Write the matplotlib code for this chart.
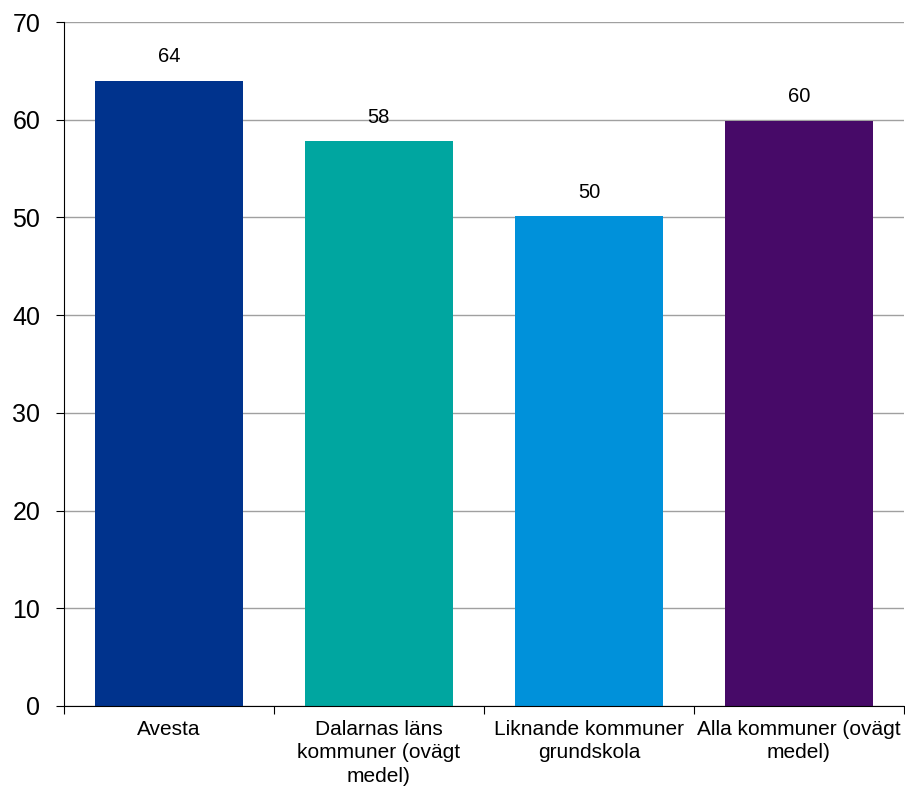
import matplotlib.pyplot as plt

plt.rcParams['font.family'] = ['Liberation Sans', 'DejaVu Sans']

categories = ["Avesta", "Dalarnas läns\nkommuner (ovägt\nmedel)",
              "Liknande kommuner\ngrundskola", "Alla kommuner (ovägt\nmedel)"]
values = [64.0, 57.8, 50.1, 59.9]
colors = ["#00338D", "#00A6A0", "#0091DA", "#470A68"]
yticks = [0, 10, 20, 30, 40, 50, 60, 70]

fig = plt.figure(figsize=(9.05, 7.89), dpi=100)
ax = fig.add_axes([0.0707, 0.1052, 0.928, 0.8669])

x = range(len(categories))
ax.bar(x, values, width=0.705, color=colors, zorder=2)
for xi, v in zip(x, values):
    ax.text(xi, v + 2.45, f"{v:.0f}", ha="center", va="center", fontsize=14.5)

ax.set_xlim(-0.5, len(categories) - 0.5)
ax.set_ylim(0, 70)
ax.set_yticks(yticks)
ax.tick_params(axis="y", labelsize=18, length=6, direction="out", pad=11)
ax.yaxis.grid(True, color="#a0a0a0", linewidth=1, zorder=0)
ax.set_axisbelow(True)

# category boundaries as ticks, labels centered
ax.set_xticks([i - 0.5 for i in range(len(categories) + 1)])
ax.set_xticklabels([])
ax.tick_params(axis="x", length=6, direction="out")
for xi, lab in zip(x, categories):
    ax.text(xi, -1.4, lab, ha="center", va="top", fontsize=15,
            linespacing=1.3)

for s in ["top", "right"]:
    ax.spines[s].set_visible(False)
ax.spines["left"].set_color("black")
ax.spines["bottom"].set_color("black")

fig.savefig("out.png", dpi=100)
